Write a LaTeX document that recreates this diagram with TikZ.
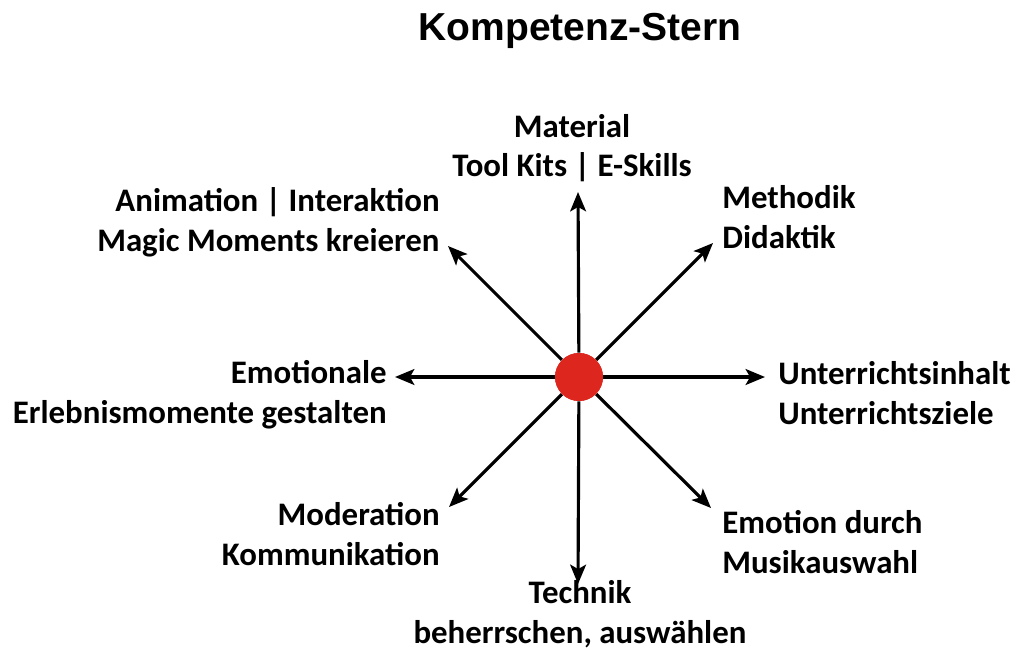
\documentclass[tikz,border=0pt]{standalone}
\usepackage{fontspec}
\setmainfont{Carlito}
\newfontfamily\titlefont{Liberation Sans}
\usetikzlibrary{arrows.meta}
\definecolor{hubred}{RGB}{220,38,30}

\tikzset{
  arr/.style={draw=black, line width=1.8pt, -{Stealth[length=11pt,width=9pt,inset=2.5pt]}},
  lbl/.style={font=\bfseries\fontsize{18.7}{22.6}\selectfont, inner sep=0pt}
}

\begin{document}
\begin{tikzpicture}[x=0.02cm,y=-0.02cm]
            \useasboundingbox (0,0) rectangle (1016,649);
            \node[font=\titlefont\bfseries\fontsize{22.2}{26}\selectfont] (title) at (580,31) {Kompetenz-Stern};

            \node[shape=circle,fill=hubred,minimum size=0.96cm,inner sep=0pt] (hub) at (579,377) {};

            \coordinate (tN) at (578,192);
            \coordinate (tS) at (578,584);
            \coordinate (tE) at (765,377);
            \coordinate (tW) at (395,377);
            \coordinate (tNE) at (713,243);
            \coordinate (tNW) at (448,246);
            \coordinate (tSE) at (711,508);
            \coordinate (tSW) at (449,507);

            \path [arr] (hub) edge (tN);
            \path [arr] (hub) edge (tS);
            \path [arr] (hub) edge (tE);
            \path [arr] (hub) edge (tW);
            \path [arr] (hub) edge (tNE);
            \path [arr] (hub) edge (tNW);
            \path [arr] (hub) edge (tSE);
            \path [arr] (hub) edge (tSW);
            \node[shape=circle,fill=hubred,minimum size=0.96cm,inner sep=0pt] at (hub) {};

            \node[lbl,align=center] (material) at (572,148) {Material\\Tool Kits | E-Skills};
            \node[lbl,align=left,anchor=west] (methodik) at (722,217) {Methodik\\Didaktik};
            \node[lbl,align=right,anchor=east] (animation) at (440,222) {Animation | Interaktion\\Magic Moments kreieren};
            \node[lbl,align=right,anchor=east] (emotionale) at (387,395) {Emotionale\\Erlebnismomente gestalten};
            \node[lbl,align=left,anchor=west] (inhalt) at (778,393) {Unterrichtsinhalt\\Unterrichtsziele};
            \node[lbl,align=right,anchor=east] (moderation) at (440,534) {Moderation\\Kommunikation};
            \node[lbl,align=left,anchor=west] (musik) at (722,542) {Emotion durch\\Musikauswahl};
            \node[lbl,align=center] (technik) at (580,614) {Technik\\beherrschen, auswählen};
        \end{tikzpicture}
\end{document}
